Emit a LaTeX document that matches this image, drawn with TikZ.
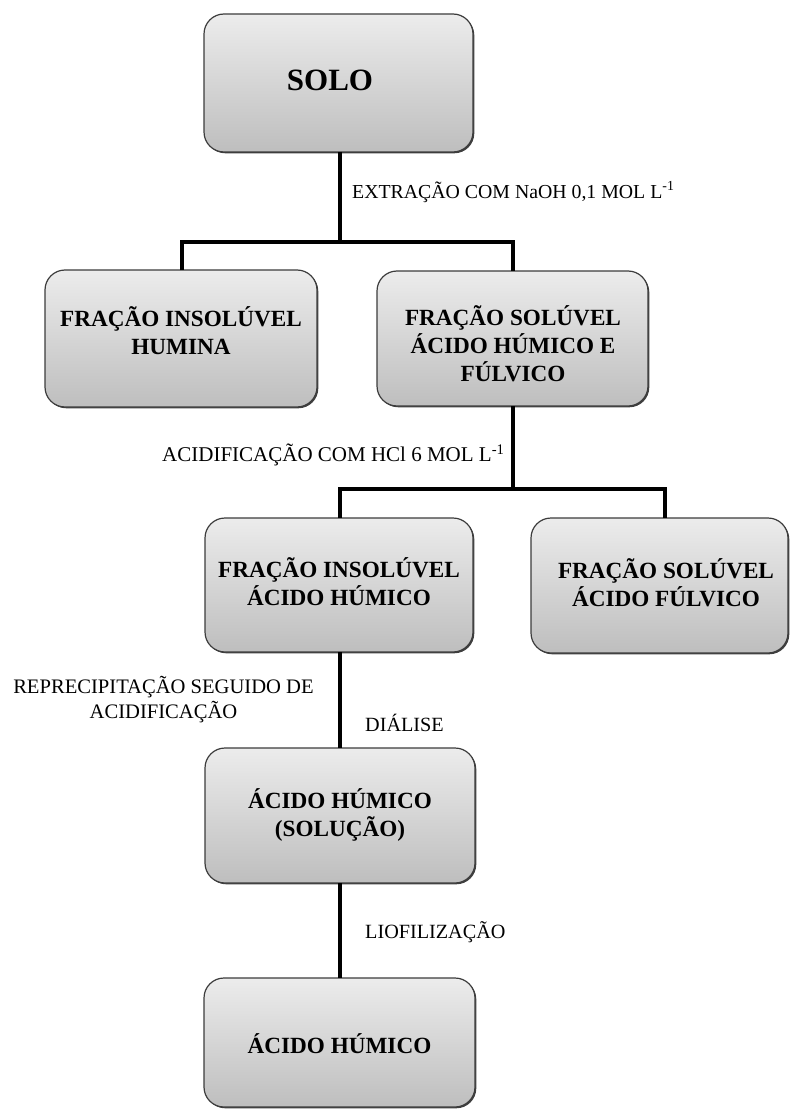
\documentclass[tikz,border=0pt]{standalone}
\usepackage{fontspec}
\setmainfont{Liberation Serif}
\usetikzlibrary{shadows}
\definecolor{boxtop}{RGB}{236,236,236}
\definecolor{boxbot}{RGB}{190,190,190}
\definecolor{boxedge}{RGB}{60,60,60}
\begin{document}
\begin{tikzpicture}[x=1pt,y=-1pt,
  box/.style={draw=boxedge, line width=1.2pt, rounded corners=20pt,
    top color=boxtop, bottom color=boxbot, inner sep=0pt, outer sep=0pt,
    drop shadow={shadow xshift=1.3pt, shadow yshift=-1.3pt, fill=black!75, opacity=1}},
  boxtext/.style={inner sep=0pt, align=center, font=\bfseries\fontsize{23.2}{28}\selectfont},
  conn/.style={line width=4.5pt, line cap=butt},
  lbl/.style={inner sep=0pt, font=\fontsize{20.2}{25}\selectfont}]
\useasboundingbox (0,0) rectangle (790,1110);
% boxes
\node[box, minimum width=269pt, minimum height=138pt] (solo) at (338.5,83) {};
\node[box, minimum width=272pt, minimum height=137pt] (b1) at (181,338.5) {};
\node[box, minimum width=271pt, minimum height=135pt] (b2) at (512.5,338.5) {};
\node[box, minimum width=268pt, minimum height=134pt] (b3) at (339,585) {};
\node[box, minimum width=257pt, minimum height=135pt] (b4) at (659.5,585.5) {};
\node[box, minimum width=270pt, minimum height=135pt] (b5) at (340,815.5) {};
\node[box, minimum width=271pt, minimum height=129pt] (b6) at (339.5,1042.5) {};
% box texts
\node[boxtext, font=\bfseries\fontsize{31}{36}\selectfont] (tsolo) at (330,80) {SOLO};
\node[boxtext] (t1) at (181,330.5) {FRAÇÃO INSOLÚVEL\\HUMINA};
\node[boxtext] (t2) at (513,343.5) {FRAÇÃO SOLÚVEL\\ÁCIDO HÚMICO E\\FÚLVICO};
\node[boxtext] (t3) at (339,581.5) {FRAÇÃO INSOLÚVEL\\ÁCIDO HÚMICO};
\node[boxtext] (t4) at (666,583) {FRAÇÃO SOLÚVEL\\ÁCIDO FÚLVICO};
\node[boxtext] (t5) at (340,815.5) {ÁCIDO HÚMICO\\(SOLUÇÃO)};
\node[boxtext] (t6) at (339.5,1044) {ÁCIDO HÚMICO};
% connectors
\coordinate (j1) at (340,242);
\coordinate (j2) at (513,489);
\coordinate (b4top) at (665,518);
\draw[conn] (solo.south -| j1) -- (j1);
\draw[conn] (b1.north -| 182,0) -- (182,242) -- (513,242) -- (b2.north -| 513,0);
\draw[conn] (b2.south -| j2) -- (j2);
\draw[conn] (b3.north -| 340,0) -- (340,489) -- (665,489) -- (b4top);
\draw[conn] (b3.south -| 340,0) -- (b5.north -| 340,0);
\draw[conn] (b5.south -| 340,0) -- (b6.north -| 340,0);
% labels
\node[lbl, anchor=west, font=\fontsize{19.8}{25}\selectfont] (l1) at (352,192) {EXTRAÇÃO COM NaOH 0,1 MOL L\textsuperscript{-1}};
\node[lbl, anchor=west, font=\fontsize{21}{25}\selectfont] (l2) at (162,455) {ACIDIFICAÇÃO COM HCl 6 MOL L\textsuperscript{-1}};
\node[lbl, align=center, font=\fontsize{20.6}{25}\selectfont] (l3) at (163.5,700) {REPRECIPITAÇÃO SEGUIDO DE\\ACIDIFICAÇÃO};
\node[lbl, anchor=west] (l4) at (365,723) {DIÁLISE};
\node[lbl, anchor=west] (l5) at (365,932) {LIOFILIZAÇÃO};
\end{tikzpicture}
\end{document}
